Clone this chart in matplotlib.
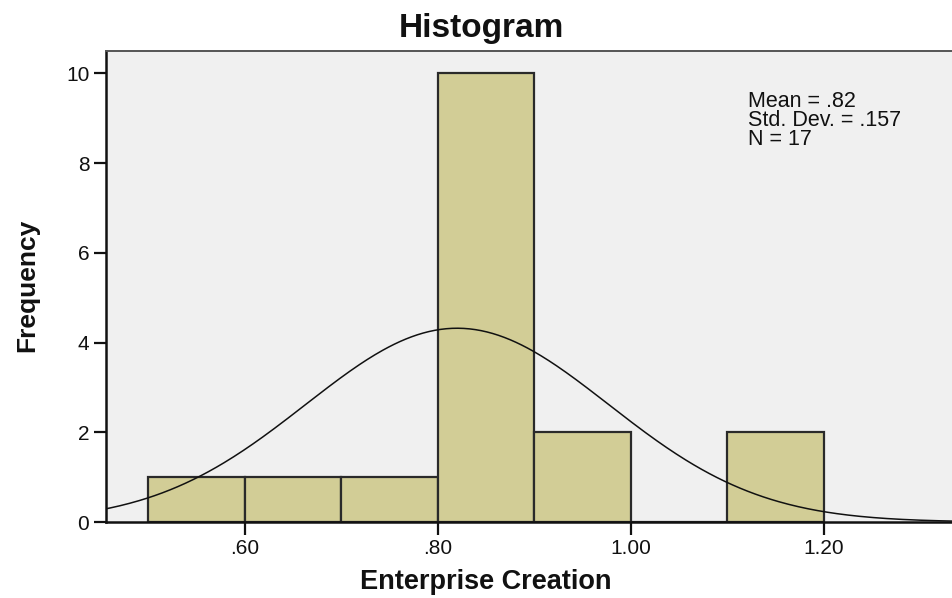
import numpy as np
import matplotlib
matplotlib.use("Agg")
import matplotlib.pyplot as plt

# Data
bin_edges = [0.5, 0.6, 0.7, 0.8, 0.9, 1.0, 1.1, 1.2]
counts = [1, 1, 1, 10, 2, 0, 2]
mean_val = 0.82
std_val = 0.157
n_val = 17
x_ticks = [0.6, 0.8, 1.0, 1.2]
x_tick_labels = [".60", ".80", "1.00", "1.20"]
y_ticks = [0, 2, 4, 6, 8, 10]

plt.rcParams['font.family'] = ['Liberation Sans', 'DejaVu Sans']

fig = plt.figure(figsize=(9.52, 5.98), dpi=100)
ax = fig.add_axes([106/952, 1 - 522/598, 1 - 106/952, (522 - 51)/598])
ax.set_facecolor('#F0F0F0')

widths = np.diff(bin_edges)
ax.bar(bin_edges[:-1], counts, width=widths, align='edge',
       color='#D2CD96', edgecolor='#2A2A2A', linewidth=1.6, zorder=2)

xs = np.linspace(0.3, 1.5, 600)
bw = bin_edges[1] - bin_edges[0]
ys = n_val * bw / (std_val * np.sqrt(2 * np.pi)) * np.exp(-0.5 * ((xs - mean_val) / std_val) ** 2)
ax.plot(xs, ys, color='#111111', linewidth=1.1, zorder=3)

ax.set_xlim(0.456, 1.333)
ax.set_ylim(0, 10.5)
ax.set_xticks(x_ticks)
ax.set_xticklabels(x_tick_labels)
ax.set_yticks(y_ticks)
ax.tick_params(axis='both', direction='out', length=9, width=1.6,
               labelsize=15, colors='#111111', pad=3)

for s in ['left', 'bottom']:
    ax.spines[s].set_linewidth(1.8)
    ax.spines[s].set_color('#111111')
ax.spines['top'].set_linewidth(1.4)
ax.spines['top'].set_color('#555555')
ax.spines['right'].set_visible(False)

ax.text(748/952, 1 - 91/598, "Mean = .82\nStd. Dev. = .157\nN = 17",
        transform=fig.transFigure, fontsize=15.5, va='top', ha='left',
        linespacing=0.86, color='#111111')

fig.text(481/952, 1 - 29/598, "Histogram", fontsize=24, fontweight='bold',
         ha='center', va='center', color='#111111')
fig.text(486/952, 1 - 582/598, "Enterprise Creation", fontsize=19.5, fontweight='bold',
         ha='center', va='center', color='#111111')
fig.text(27/952, 1 - 285/598, "Frequency", fontsize=19, fontweight='bold',
         ha='center', va='center', rotation=90, color='#111111')

fig.savefig("out.png", dpi=100)
